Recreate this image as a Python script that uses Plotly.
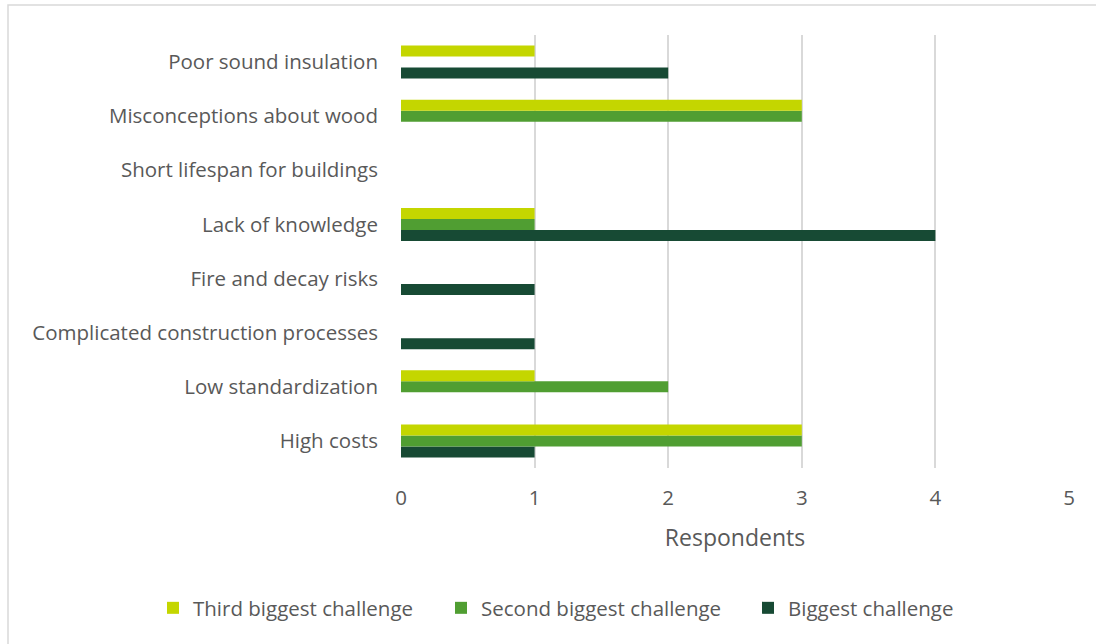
import plotly.graph_objects as go

# Survey answers: challenges named by respondents
categories = [
    "High costs",
    "Low standardization",
    "Complicated construction processes",
    "Fire and decay risks",
    "Lack of knowledge",
    "Short lifespan for buildings",
    "Misconceptions about wood",
    "Poor sound insulation",
]
biggest = [1, 0, 1, 1, 4, 0, 0, 2]
second = [3, 2, 0, 0, 1, 0, 3, 0]
third = [3, 1, 0, 0, 1, 0, 3, 1]
x_ticks = [0, 1, 2, 3, 4, 5]

series = [
    ("Biggest challenge", biggest, "#174A34", "legend3"),
    ("Second biggest challenge", second, "#509E32", "legend2"),
    ("Third biggest challenge", third, "#C4D600", "legend"),
]

font_family = "Open Sans, Segoe UI, sans-serif"
text_color = "#595959"
label_size = 20.5

fig = go.Figure()
for name, vals, color, leg in series:
    fig.add_trace(go.Bar(
        y=categories, x=vals, name=name, orientation="h",
        marker=dict(color=color, line=dict(width=0)),
        legend=leg,
    ))

W, H = 1096, 644
ml, mr, mt, mb = 401, 27, 35, 176
pw, ph = W - ml - mr, H - mt - mb

def px_x(p):
    return (p - ml) / pw

def px_y(p):
    return (H - mb - p) / ph

def legend_box(left_px):
    return dict(
        orientation="h",
        x=px_x(left_px), xanchor="left", y=px_y(608), yanchor="middle",
        font=dict(size=label_size, color=text_color),
        itemwidth=30, bgcolor="rgba(0,0,0,0)",
    )

fig.update_layout(
    width=W, height=H,
    margin=dict(l=ml, r=mr, t=mt, b=mb, pad=0),
    barmode="group",
    bargap=0.39,
    bargroupgap=0,
    plot_bgcolor="white",
    paper_bgcolor="white",
    font=dict(family=font_family, size=label_size, color=text_color),
    showlegend=True,
    legend=legend_box(153),
    legend2=legend_box(441),
    legend3=legend_box(748),
    xaxis=dict(
        range=[0, 5], tickvals=x_ticks, showgrid=True,
        gridcolor="#D9D9D9", gridwidth=1.5,
        zeroline=False, showline=False, ticks="",
        ticklabelstandoff=15,
        title=dict(text="Respondents", standoff=20, font=dict(size=23, color=text_color)),
        tickfont=dict(size=label_size, color=text_color),
        fixedrange=True,
    ),
    yaxis=dict(
        categoryorder="array", categoryarray=categories,
        showgrid=False, zeroline=False, showline=False, ticks="",
        ticklabelstandoff=22,
        tickfont=dict(size=label_size, color=text_color),
        range=[-0.5, 7.5],
        fixedrange=True,
    ),
    shapes=[dict(
        type="rect", xref="paper", yref="paper",
        x0=px_x(8), x1=px_x(1110), y0=px_y(660), y1=px_y(5),
        line=dict(color="#D9D9D9", width=1.5), fillcolor="rgba(0,0,0,0)",
        layer="below",
    )],
)

fig.write_html("out.html")
